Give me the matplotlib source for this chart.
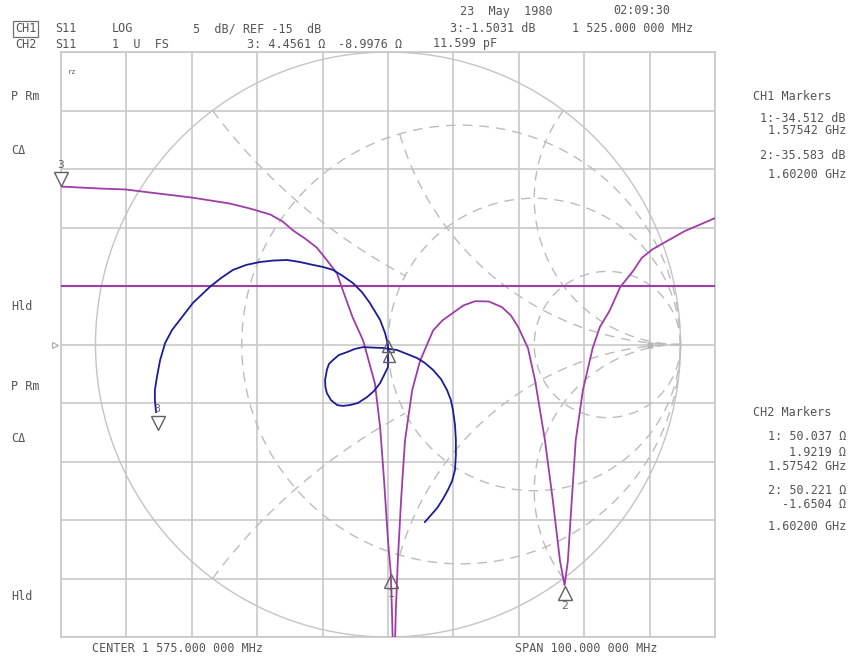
import numpy as np
import matplotlib
matplotlib.use('Agg')
import matplotlib.pyplot as plt
from matplotlib import transforms

W, H = 851, 658

# CH1: S11 log magnitude, 5 dB/div, ref -15 dB
freq_mhz = [1525.0, 1531.0, 1534.9, 1538.6, 1545.0, 1550.8, 1553.9, 1557.0, 1558.9,
            1560.5, 1562.3, 1564.1, 1565.7, 1567.2, 1568.1, 1569.6, 1571.2, 1573.0,
            1573.8, 1574.4, 1575.0, 1575.42, 1575.6, 1575.8, 1576.0, 1576.2, 1576.5,
            1577.0, 1577.6, 1578.7, 1579.9, 1581.9, 1583.3, 1584.8, 1586.5, 1588.3,
            1590.4, 1592.4, 1593.8, 1594.9, 1596.4, 1597.5, 1599.0, 1600.2, 1601.3,
            1602.0, 1602.5, 1603.1, 1603.7, 1604.8, 1606.3, 1607.4, 1608.9, 1610.5,
            1612.5, 1613.8, 1615.4, 1616.9, 1620.4, 1625.0]
mag_db = [-1.50, -1.67, -1.75, -2.01, -2.44, -2.95, -3.38, -3.89, -4.49,
          -5.26, -5.94, -6.71, -7.82, -8.93, -10.38, -12.69, -14.66, -18.33,
          -22.09, -26.62, -31.75, -34.51, -37.7, -42.0, -42.0, -37.7, -33.5,
          -28.3, -23.2, -18.9, -16.4, -13.8, -12.95, -12.35, -11.67, -11.3,
          -11.32, -11.8, -12.52, -13.5, -15.3, -18.1, -23.2, -28.3, -33.5,
          -35.58, -33.5, -28.3, -23.2, -18.9, -15.3, -13.5, -12.1, -10.1,
          -8.7, -7.6, -6.88, -6.4, -5.3, -4.2]
limit_db = -10

mk1_freq = [1525.0, 1575.42, 1602.0]
mk1_db = [-1.5031, -34.512, -35.583]

# CH2: S11 on Smith chart (reflection coefficient)
gamma_re = [-0.793, -0.797, -0.797, -0.790, -0.779, -0.762, -0.738, -0.704, -0.667,
            -0.609, -0.571, -0.530, -0.485, -0.438, -0.393, -0.345, -0.301, -0.256,
            -0.222, -0.188, -0.154, -0.120, -0.089, -0.062, -0.027, -0.010, 0.000,
            0.000, -0.027, -0.048, -0.072, -0.103, -0.130, -0.154, -0.174, -0.195,
            -0.209, -0.214, -0.215, -0.209, -0.202, -0.188, -0.168, -0.140, -0.113,
            -0.085, -0.017, 0.031, 0.099, 0.126, 0.154, 0.181, 0.202, 0.215,
            0.222, 0.229, 0.232, 0.232, 0.229, 0.219, 0.205, 0.188, 0.168,
            0.147, 0.126]
gamma_im = [-0.231, -0.190, -0.156, -0.111, -0.053, 0.005, 0.050, 0.094, 0.142,
            0.197, 0.227, 0.255, 0.272, 0.282, 0.287, 0.289, 0.282, 0.272,
            0.265, 0.255, 0.234, 0.210, 0.179, 0.142, 0.084, 0.039, -0.002,
            -0.077, -0.132, -0.159, -0.180, -0.200, -0.207, -0.210, -0.207, -0.190,
            -0.166, -0.145, -0.121, -0.087, -0.067, -0.053, -0.036, -0.026, -0.015,
            -0.009, -0.012, -0.019, -0.046, -0.063, -0.087, -0.118, -0.156, -0.190,
            -0.224, -0.275, -0.326, -0.378, -0.429, -0.467, -0.497, -0.528, -0.559,
            -0.583, -0.607]

z0 = 50.0
mk2_r = [4.4561, 50.037, 50.221]
mk2_x = [-8.9976, 1.9219, -1.6504]
mk_labels = ['3', '1', '2']

# smith graticule: resistance circles and (x, r_from, r_to) reactance arcs
smith_r = [1 / 3, 1, 3]
smith_x = [(0.5, 0, 1), (1, 1 / 3, np.inf), (2, 0, np.inf)]

GRID = '#c8c8c8'
TXT = '#555555'
PURPLE = '#a03ca8'
BLUE = '#1c1c96'
MK = '#606060'

fig = plt.figure(figsize=(W / 100, H / 100), dpi=100)
rect = [61 / W, (H - 637) / H, 654 / W, 585 / H]

ax = fig.add_axes(rect)
ax.set_xlim(1525, 1625)
ax.set_ylim(-40, 10)
ax.set_xticks(np.linspace(1525, 1625, 11))
ax.set_yticks(np.arange(-40, 11, 5))
ax.grid(True, color=GRID, lw=1.2)
ax.tick_params(length=0, labelbottom=False, labelleft=False)
for s in ax.spines.values():
    s.set_color(GRID)
    s.set_linewidth(1.2)

ax_s = fig.add_axes(rect, frameon=False)
ax_s.set_xlim(-654 / 585, 654 / 585)
ax_s.set_ylim(-1, 1)
ax_s.axis('off')

t = np.linspace(0, 2 * np.pi, 500)
ax_s.plot(np.cos(t), np.sin(t), color='#c4c4c4', lw=1.0)
for r in smith_r:
    c, rad = r / (1 + r), 1 / (1 + r)
    ax_s.plot(c + rad * np.cos(t), rad * np.sin(t), color='#bcbcbc', lw=1.0,
              dashes=(7, 5))
for xv, r0, r1 in smith_x:
    a0, a1 = np.arctan(r0), (np.arctan(r1) if np.isfinite(r1) else np.pi / 2 - 1e-4)
    rr = np.tan(np.linspace(a0, a1, 300))
    for sgn in (1, -1):
        z = rr + 1j * sgn * xv
        g = (z - 1) / (z + 1)
        ax_s.plot(g.real, g.imag, color='#bcbcbc', lw=1.0, dashes=(7, 5))
ax_s.plot([0.896], [0.0], marker='s', ms=4, color='#b4b4b4', mec='none')

# limit line and CH1 trace
ax_s.plot([1525, 1625], [limit_db, limit_db], color=PURPLE, lw=1.5,
          transform=ax.transData)
ax_s.plot(freq_mhz, mag_db, color=PURPLE, lw=1.3, transform=ax.transData)

# CH2 trace
ax_s.plot(gamma_re, gamma_im, color=BLUE, lw=1.3)

def offs(trans, dy):
    return transforms.offset_copy(trans, fig=fig, x=0, y=dy, units='dots')

# CH1 markers
for i, (f, d) in enumerate(zip(mk1_freq, mk1_db)):
    if mk_labels[i] == '3':
        ax_s.plot([f], [d], marker='v', ms=10, mfc='white', mec=MK, mew=1,
                  transform=offs(ax.transData, 8), clip_on=False)
        ax_s.text(f, d, '3', transform=offs(ax.transData, 22), ha='center',
                  va='center', fontsize=8, color=MK, family='DejaVu Sans Mono')
    else:
        ax_s.plot([f], [d], marker='^', ms=10, mfc='none', mec=MK, mew=1,
                  transform=offs(ax.transData, -8), clip_on=False)
        ax_s.text(f, d, mk_labels[i], transform=offs(ax.transData, -21),
                  ha='center', va='center', fontsize=8, color=MK,
                  family='DejaVu Sans Mono')

# CH2 markers
for i, (r, x) in enumerate(zip(mk2_r, mk2_x)):
    z = complex(r, x) / z0
    g = (z - 1) / (z + 1)
    if mk_labels[i] == '3':
        ax_s.plot([g.real], [g.imag], marker='v', ms=10, mfc='none', mec=MK,
                  mew=1, transform=offs(ax_s.transData, 8))
        ax_s.text(g.real, g.imag, '3', transform=offs(ax_s.transData, 22),
                  ha='center', va='center', fontsize=7, color=MK,
                  family='DejaVu Sans Mono')
    else:
        ax_s.plot([g.real], [g.imag], marker='^', ms=9, mfc='none', mec=MK,
                  mew=1, transform=offs(ax_s.transData, -7))

# reference position arrow at left
ax.plot([-0.009], [0.5], marker='>', ms=5, mfc='white', mec='#a8a8a8', mew=0.8,
        transform=ax.transAxes, clip_on=False)

def put(x, y, s, ha='left', size=8.5, **kw):
    fig.text(x / W, 1 - y / H, s, ha=ha, va='center', fontsize=size,
             family='DejaVu Sans Mono', color=TXT, **kw)

put(460, 11, '23  May  1980')
put(613, 11, '02:09:30')
put(15, 29, 'CH1', bbox=dict(boxstyle='square,pad=0.15', fc='none', ec='#707070', lw=0.9))
put(55, 29, 'S11')
put(112, 29, 'LOG')
put(193, 29, '5  dB/ REF -15  dB')
put(450, 29, '3:-1.5031 dB')
put(572, 29, '1 525.000 000 MHz')
put(15, 44, 'CH2')
put(55, 44, 'S11')
put(112, 44, '1  U  FS')
put(247, 44, '3: 4.4561 Ω')
put(338, 44, '-8.9976 Ω')
put(433, 44, '11.599 pF')

put(68, 72, 'rz', size=5)
for y, s in [(97, 'P Rm'), (150, 'CΔ'), (307, 'Hld'),
             (386, 'P Rm'), (438, 'CΔ'), (596, 'Hld')]:
    put(11, y, s)

put(753, 96, 'CH1 Markers')
put(846, 118, '1:-34.512 dB', ha='right')
put(846, 131, '1.57542 GHz', ha='right')
put(846, 155, '2:-35.583 dB', ha='right')
put(846, 175, '1.60200 GHz', ha='right')

put(753, 413, 'CH2 Markers')
put(846, 437, '1: 50.037 Ω', ha='right')
put(846, 452, '1.9219 Ω', ha='right')
put(846, 466, '1.57542 GHz', ha='right')
put(846, 490, '2: 50.221 Ω', ha='right')
put(846, 505, '-1.6504 Ω', ha='right')
put(846, 526, '1.60200 GHz', ha='right')

put(92, 648, 'CENTER 1 575.000 000 MHz')
put(515, 648, 'SPAN 100.000 000 MHz')

fig.savefig('out.png', dpi=100)
